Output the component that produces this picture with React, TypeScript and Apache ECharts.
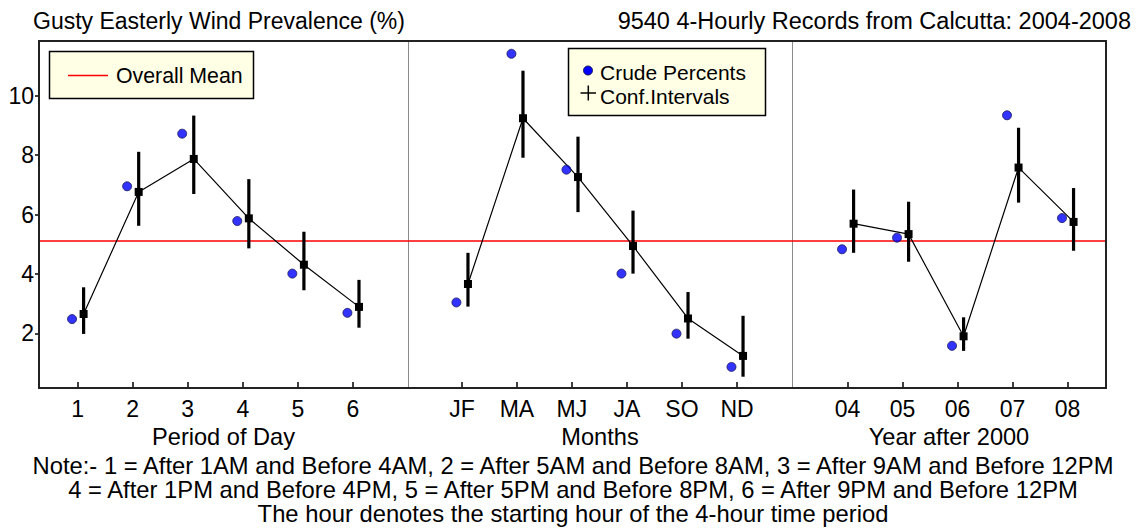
import React, { useEffect, useRef } from "react";
import * as echarts from "echarts";

// ---- data ----
const periodLabels = ["1", "2", "3", "4", "5", "6"];
const periodCrude = [2.48, 6.95, 8.72, 5.78, 4.01, 2.69];
const periodEst = [2.65, 6.76, 7.87, 5.87, 4.31, 2.89];
const periodLow = [1.98, 5.62, 6.69, 4.86, 3.45, 2.19];
const periodHigh = [3.55, 8.11, 9.33, 7.19, 5.42, 3.8];

const monthLabels = ["JF", "MA", "MJ", "JA", "SO", "ND"];
const monthCrude = [3.04, 11.41, 7.51, 4.01, 1.99, 0.87];
const monthEst = [3.66, 9.24, 7.26, 4.94, 2.5, 1.24];
const monthLow = [2.9, 7.91, 6.08, 4.01, 1.82, 0.54];
const monthHigh = [4.71, 10.84, 8.62, 6.13, 3.39, 2.59];

const yearLabels = ["04", "05", "06", "07", "08"];
const yearCrude = [4.83, 5.22, 1.58, 9.34, 5.88];
const yearEst = [5.69, 5.34, 1.9, 7.58, 5.75];
const yearLow = [4.71, 4.41, 1.41, 6.4, 4.78];
const yearHigh = [6.84, 6.43, 2.54, 8.92, 6.89];

const overallMean = 5.11;
const yTicks = [2, 4, 6, 8, 10];

const panelNames = ["Period of Day", "Months", "Year after 2000"];
const titleLeft = "Gusty Easterly Wind Prevalence (%)";
const titleRight = "9540 4-Hourly Records from Calcutta: 2004-2008";
const legendItems = ["Crude Percents", "Conf.Intervals"];
const noteLines = [
  "Note:- 1 = After 1AM and Before 4AM, 2 = After 5AM and Before 8AM, 3 = After 9AM and Before 12PM",
  "4 = After 1PM and Before 4PM, 5 = After 5PM and Before 8PM, 6 = After 9PM and Before 12PM",
  "The hour denotes the starting hour of the 4-hour time period",
];

const FONT = "'Liberation Sans', Arial, Helvetica, sans-serif";

const panels = [
  { labels: periodLabels, crude: periodCrude, est: periodEst, low: periodLow, high: periodHigh, left: 39, width: 369, min: 0.3, max: 7.0 },
  { labels: monthLabels, crude: monthCrude, est: monthEst, low: monthLow, high: monthHigh, left: 408, width: 384, min: 0.02, max: 7.0 },
  { labels: yearLabels, crude: yearCrude, est: yearEst, low: yearLow, high: yearHigh, left: 792, width: 314, min: -0.01, max: 5.7 },
];

const DOT_OFF = -0.1;
const EST_OFF = 0.11;

export default function App() {
  const ref = useRef<HTMLDivElement>(null);

  useEffect(() => {
    document.body.style.margin = "0";
    const chart = echarts.init(ref.current!, null, { renderer: "svg" });

    const grids: any[] = [];
    const xAxes: any[] = [];
    const yAxes: any[] = [];
    const series: any[] = [];

    panels.forEach((p, i) => {
      const pos = p.labels.map((_, k) => k + 1);
      grids.push({ left: p.left, top: 41, width: p.width, height: 347, containLabel: false, outerBoundsMode: "none" });
      xAxes.push({
        type: "value",
        gridIndex: i,
        min: p.min,
        max: p.max,
        axisLine: { show: true, onZero: false, lineStyle: { color: "#000", width: 2 } },
        axisTick: { show: true, inside: true, length: 6, customValues: pos, lineStyle: { color: "#000", width: 1.5 } },
        axisLabel: {
          customValues: pos,
          formatter: (v: number) => p.labels[Math.round(v) - 1] ?? "",
          fontSize: 23,
          color: "#000",
          fontFamily: FONT,
          margin: 9,
        },
        splitLine: { show: false },
        name: panelNames[i],
        nameLocation: "middle",
        nameGap: 33,
        nameTextStyle: { fontSize: 23.6, color: "#000", fontFamily: FONT },
      });
      yAxes.push({
        type: "value",
        gridIndex: i,
        min: 0.16,
        max: 11.84,
        axisLine: { show: true, onZero: false, lineStyle: { color: i === 0 ? "#000" : "#8a8a8a", width: i === 0 ? 2 : 1 } },
        axisTick: { show: i === 0, inside: false, length: 4, customValues: yTicks, lineStyle: { color: "#000", width: 1.5 } },
        axisLabel: {
          show: i === 0,
          customValues: yTicks,
          fontSize: 23,
          color: "#000",
          fontFamily: FONT,
          margin: 5,
        },
        splitLine: { show: false },
      });

      series.push({
        type: "line",
        xAxisIndex: i,
        yAxisIndex: i,
        data: p.est.map((v, k) => [pos[k] + EST_OFF, v]),
        symbol: "rect",
        symbolSize: 8,
        itemStyle: { color: "#000" },
        lineStyle: { color: "#000", width: 1.2 },
        z: 3,
        markLine: {
          silent: true,
          symbol: "none",
          label: { show: false },
          lineStyle: { color: "#ff0000", width: 1.5, type: "solid" },
          data: [{ yAxis: overallMean }],
          z: 1,
        },
      });
      series.push({
        type: "custom",
        xAxisIndex: i,
        yAxisIndex: i,
        data: p.low.map((v, k) => [pos[k] + EST_OFF, v, p.high[k]]),
        encode: { x: 0, y: [1, 2] },
        z: 4,
        renderItem: (_params: any, api: any) => {
          const x = api.value(0);
          const a = api.coord([x, api.value(1)]);
          const b = api.coord([x, api.value(2)]);
          return {
            type: "line",
            shape: { x1: a[0], y1: a[1], x2: b[0], y2: b[1] },
            style: { stroke: "#000", lineWidth: 3.2 },
          };
        },
      });
      series.push({
        type: "scatter",
        xAxisIndex: i,
        yAxisIndex: i,
        data: p.crude.map((v, k) => [pos[k] + DOT_OFF, v]),
        symbol: "circle",
        symbolSize: 9,
        itemStyle: { color: "#0000ff", borderColor: "#1a1a5a", borderWidth: 1 },
        z: 5,
      });
    });

    const graphic: any[] = [
      // outer frame
      { type: "rect", z: 100, shape: { x: 39, y: 41, width: 1067, height: 347 }, style: { fill: "none", stroke: "#222", lineWidth: 2 } },
      // titles
      { type: "text", x: 33, y: 21, style: { text: titleLeft, font: `23px ${FONT}`, fill: "#000", textAlign: "left", textVerticalAlign: "middle" } },
      { type: "text", x: 1131, y: 21, style: { text: titleRight, font: `23.5px ${FONT}`, fill: "#000", textAlign: "right", textVerticalAlign: "middle" } },
      // legend 1
      { type: "rect", z: 50, shape: { x: 49.5, y: 51.5, width: 204, height: 47 }, style: { fill: "#ffffe6", stroke: "#000", lineWidth: 1.5 } },
      { type: "line", z: 51, shape: { x1: 68, y1: 75.5, x2: 108, y2: 75.5 }, style: { stroke: "#ff0000", lineWidth: 1.5 } },
      { type: "text", z: 51, x: 116, y: 76, style: { text: "Overall Mean", font: `21.3px ${FONT}`, fill: "#000", textAlign: "left", textVerticalAlign: "middle" } },
      // legend 2
      { type: "rect", z: 50, shape: { x: 568.5, y: 48.5, width: 197, height: 67 }, style: { fill: "#ffffe6", stroke: "#000", lineWidth: 1.5 } },
      { type: "circle", z: 51, shape: { cx: 588, cy: 70.5, r: 4.5 }, style: { fill: "#0000ff", stroke: "#1a1a5a", lineWidth: 1 } },
      { type: "line", z: 51, shape: { x1: 580.5, y1: 93, x2: 596, y2: 93 }, style: { stroke: "#000", lineWidth: 1.5 } },
      { type: "line", z: 51, shape: { x1: 588.3, y1: 85.5, x2: 588.3, y2: 100.5 }, style: { stroke: "#000", lineWidth: 1.5 } },
      { type: "text", z: 51, x: 600, y: 72.8, style: { text: legendItems[0], font: `21px ${FONT}`, fill: "#000", textAlign: "left", textVerticalAlign: "middle" } },
      { type: "text", z: 51, x: 600, y: 96.8, style: { text: legendItems[1], font: `21px ${FONT}`, fill: "#000", textAlign: "left", textVerticalAlign: "middle" } },
    ];
    const noteY = [466, 490, 514];
    noteLines.forEach((t, k) => {
      graphic.push({
        type: "text", x: 573, y: noteY[k], scaleX: 1.035,
        style: { text: t, font: `23px ${FONT}`, fill: "#000", textAlign: "center", textVerticalAlign: "middle" },
      });
    });

    chart.setOption({
      animation: false,
      backgroundColor: "#fff",
      grid: grids,
      xAxis: xAxes,
      yAxis: yAxes,
      series,
      graphic,
    });
    return () => chart.dispose();
  }, []);

  return <div ref={ref} style={{ width: 1144, height: 530 }} />;
}
